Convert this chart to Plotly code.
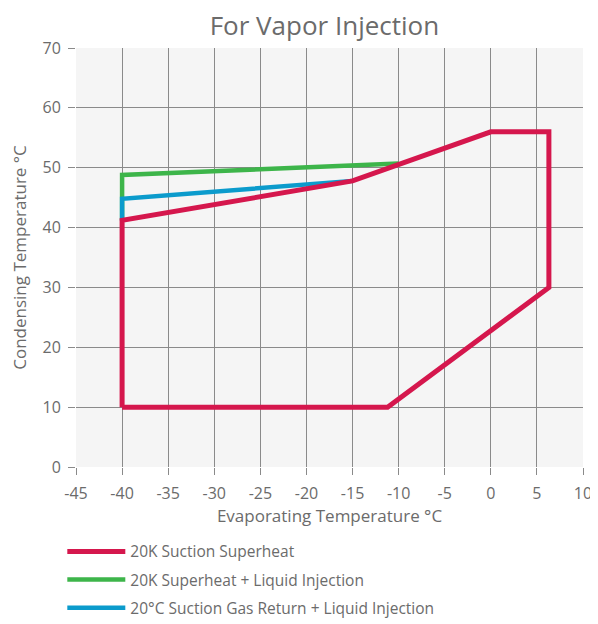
import plotly.graph_objects as go

# Operating envelope outlines (evaporating °C, condensing °C)
superheat_x = [-40, -40, -15, 0, 6.3, 6.3, -11.2, -40]
superheat_y = [10, 41.2, 47.8, 56, 56, 30, 10, 10]

liquid_inj_x = [-40, -40, -10]
liquid_inj_y = [41.2, 48.8, 50.7]

gas_return_x = [-40, -40, -15]
gas_return_y = [41.2, 44.8, 47.8]

x_ticks = list(range(-45, 11, 5))
y_ticks = list(range(0, 71, 10))

FONT = "Open Sans"
GREY_TEXT = "#6b6b6b"
GRID = "#8a8a8a"

fig = go.Figure()

# green and blue first so the red envelope sits on top
fig.add_trace(go.Scatter(
    x=liquid_inj_x, y=liquid_inj_y, mode="lines",
    name="20K Superheat + Liquid Injection",
    line=dict(color="#3db54a", width=4.5),
    legendgroup="b", legendrank=2,
))
fig.add_trace(go.Scatter(
    x=gas_return_x, y=gas_return_y, mode="lines",
    name="20°C Suction Gas Return + Liquid Injection",
    line=dict(color="#0b9bcc", width=4.5),
    legendgroup="c", legendrank=3,
))
fig.add_trace(go.Scatter(
    x=superheat_x, y=superheat_y, mode="lines",
    name="20K Suction Superheat",
    line=dict(color="#d5174d", width=5),
    legendgroup="a", legendrank=1,
))

axis_common = dict(
    showgrid=True, gridcolor=GRID, gridwidth=1,
    showline=False, zeroline=False,
    ticks="outside", ticklen=7, tickcolor=GRID,
    tickfont=dict(family=FONT, size=16, color=GREY_TEXT),
)

# page body has an 8px margin, so the figure is 8px smaller and shifted
fig.update_layout(
    width=590, height=616,
    margin=dict(l=68, r=15, t=40, b=157, autoexpand=False),
    paper_bgcolor="white",
    plot_bgcolor="#f5f5f5",
    font=dict(family=FONT, color=GREY_TEXT),
    title=dict(
        text="For Vapor Injection",
        x=0.49, xref="paper", xanchor="center",
        y=0.971, yref="container", yanchor="middle",
        font=dict(family=FONT, size=26, color=GREY_TEXT),
    ),
    xaxis=dict(
        range=[-45, 10], tickvals=x_ticks, ticktext=[str(v) for v in x_ticks],
        ticklabelstandoff=5,
        title=dict(text="Evaporating Temperature °C", standoff=4,
                   font=dict(family=FONT, size=17, color=GREY_TEXT)),
        **axis_common,
    ),
    yaxis=dict(
        range=[0, 70], tickvals=y_ticks, ticktext=[str(v) for v in y_ticks],
        ticklabelstandoff=4,
        title=dict(text="Condensing Temperature °C", standoff=11,
                   font=dict(family=FONT, size=17, color=GREY_TEXT)),
        **axis_common,
    ),
    showlegend=True,
    legend=dict(
        orientation="v", x=-0.027, y=-0.162, xanchor="left", yanchor="top",
        tracegroupgap=5, traceorder="grouped", itemwidth=58,
        font=dict(family=FONT, size=15.5, color=GREY_TEXT),
        bgcolor="rgba(0,0,0,0)",
    ),
)

fig.write_html("out.html")
